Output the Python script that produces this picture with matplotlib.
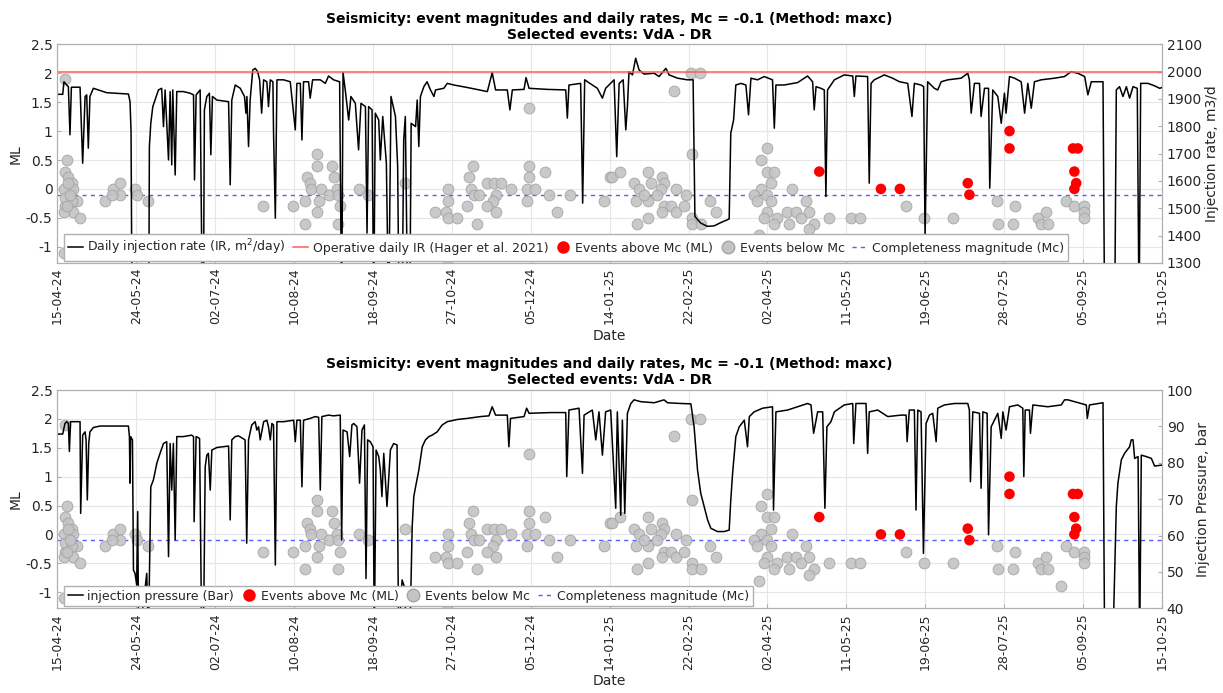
import datetime as dt
import numpy as np
import matplotlib
matplotlib.use("Agg")
import matplotlib.pyplot as plt
from matplotlib.lines import Line2D

# time axis: days since 15-04-2024, ends on 15-10-2025
start = dt.date(2024, 4, 15)
end_day = 548
mc = -0.1
operative_ir = 2000

# daily injection rate [m3/d]
rate_day = [0.4, 2.6, 3.2, 4.6, 5.4, 6.2, 6.9, 11.2, 12.5, 13.7, 14.5, 15.3, 16.1, 17.8, 24.4, 35.2, 36.0, 36.5, 37.0,
            45.3, 45.6, 46.3, 47.3, 48.4, 50.1, 51.7, 52.6, 53.4, 55.1, 55.9, 56.7, 57.2, 58.4, 59.2, 62.5, 65.8, 67.5,
            68.0, 68.8, 70.8, 71.9, 72.4, 72.9, 74.1, 75.4, 76.1, 76.9, 79.1, 84.9, 85.7, 86.5, 88.2, 90.7, 92.8, 93.5,
            94.0, 94.8, 95.6, 96.9, 98.1, 99.3, 100.3, 101.3, 102.3, 103.9, 104.7, 105.6, 106.9, 107.2, 108.1, 108.9,
            112.2, 115.5, 118.0, 118.8, 120.5, 121.3, 122.1, 124.6, 125.4, 126.6, 130.4, 132.9, 134.5, 137.0, 140.0,
            141.0, 141.7, 142.8, 144.5, 145.6, 147.8, 149.4, 150.6, 152.8, 153.6, 154.4, 156.1, 156.9, 157.7, 159.4,
            160.2, 161.4, 163.2, 164.3, 165.5, 167.7, 168.8, 169.5, 171.0, 171.8, 172.6, 173.8, 174.8, 175.5, 177.7,
            178.5, 179.3, 180.1, 181.8, 183.4, 185.1, 186.8, 187.6, 191.7, 193.4, 196.7, 203.3, 213.3, 215.7, 217.4,
            223.2, 224.5, 225.7, 231.5, 232.5, 234.0, 243.1, 252.2, 253.0, 253.8, 259.6, 260.6, 261.6, 265.4, 267.9,
            270.4, 272.0, 276.2, 277.5, 278.7, 280.7, 282.0, 282.8, 283.6, 285.3, 286.9, 288.6, 291.1, 296.1, 298.5,
            301.9, 303.5, 307.7, 312.6, 315.4, 316.3, 319.2, 322.5, 325.9, 329.2, 333.3, 334.1, 335.5, 336.6, 339.1,
            341.6, 342.9, 344.1, 347.4, 350.7, 354.8, 355.7, 356.5, 360.6, 367.3, 372.2, 374.7, 375.5, 376.4, 378.8,
            380.5, 381.3, 382.1, 385.5, 390.4, 394.6, 395.4, 396.2, 402.0, 402.8, 403.7, 405.3, 410.3, 414.4, 417.8,
            421.9, 424.0, 425.2, 428.5, 429.8, 430.5, 431.8, 435.1, 436.8, 438.5, 441.8, 448.4, 451.7, 452.5, 453.4,
            455.0, 457.5, 458.3, 460.0, 462.0, 462.6, 464.1, 466.6, 468.3, 469.9, 470.7, 472.4, 474.9, 478.2, 479.9,
            481.5, 483.2, 484.8, 488.1, 494.8, 499.7, 503.0, 506.3, 509.7, 511.3, 513.0, 518.8, 519.6, 524.6, 525.4,
            527.0, 528.7, 530.4, 532.0, 533.7, 535.8, 536.7, 537.5, 541.1, 544.4, 546.9, 548.6]
rate_val = [1917, 1917, 1963, 1951, 1945, 1769, 1943, 1943, 1665, 1909, 1915, 1720, 1909, 1939, 1923, 1918, 1890, 1781, 1100,
            1100, 1726, 1811, 1872, 1896, 1933, 1939, 1799, 1933, 1677, 1927, 1659, 1933, 1622, 1927, 1927, 1921, 1915,
            1604, 1915, 1933, 1100, 1100, 1860, 1909, 1921, 1696, 1909, 1896, 1890, 1586, 1896, 1951, 1939, 1909, 1848,
            1909, 1726, 1896, 2006, 2012, 2000, 1970, 1848, 1970, 1963, 1872, 1970, 1963, 1781, 1464, 1970,
            1970, 1963, 1787, 1957, 1957, 1750, 1963, 1963, 1903, 1970, 1970, 1957, 1984, 1970, 1963,
            1100, 1996, 1933, 1823, 1909, 1884, 1714, 1884, 1872, 1409, 1872, 1860, 1100, 1848, 1823,
            1677, 1836, 1665, 1100, 1909, 1836, 1653, 1100, 1100, 1750, 1836, 1100, 1100, 1811, 1799,
            1896, 1726, 1909, 1945, 1963, 1933, 1909, 1933, 1939, 1957, 1951, 1942, 1927, 1996, 1933,
            1933, 1860, 1933, 1935, 1978, 1939, 1935, 1933, 1830, 1951, 1957, 1519, 1970, 1951, 1939,
            1903, 1939, 1970, 1689, 1957, 1970, 1787, 1872, 2000, 1988, 2049, 2006, 1991, 1994, 1982,
            2012, 1988, 1976, 1970, 1970, 1470, 1446, 1434, 1436, 1448, 1461, 1775, 1823, 1951, 1957,
            1951, 1842, 1976, 1970, 1982, 1970, 1793, 1951, 1951, 1960, 1984, 1963, 1860, 1945, 1939,
            1933, 1543, 1933, 1970, 1988, 1984, 1909, 1984, 1982, 1592, 1957, 1970, 1988, 1976, 1963,
            1957, 1836, 1957, 1951, 1945, 1397, 1963, 1939, 1933, 1963, 1970, 1976, 1994, 1970, 1848,
            1957, 1957, 1836, 1939, 1939, 1574, 1933, 1909, 1811, 1921, 1848, 1982, 1976, 1963, 1848,
            1957, 1866, 1963, 1970, 1976, 1982, 2000, 1994, 1982, 1915, 1963, 1963, 1100, 1100, 1933,
            1945, 1909, 1945, 1903, 1945, 1939, 1100, 1957, 1957, 1948, 1939, 1943]

# injection pressure [bar]
pres_day = [0.4, 2.6, 3.7, 4.6, 5.4, 5.9, 6.5, 11.2, 11.5, 12.5, 13.7, 14.2, 14.8, 15.5, 16.1, 17.8, 21.1, 35.2, 35.7,
            36.0, 36.3, 37.2, 37.7, 38.5, 39.3, 39.8, 40.3, 44.3, 45.1, 46.3, 47.6, 49.3, 50.9, 52.6, 54.2, 55.1, 55.9,
            56.7, 57.5, 58.4, 59.2, 62.5, 66.6, 67.5, 67.8, 68.8, 70.5, 71.6, 72.4, 73.3, 74.1, 74.9, 75.8, 76.6, 79.1,
            84.9, 85.7, 86.5, 88.2, 89.8, 93.1, 93.9, 94.8, 96.4, 98.1, 98.9, 99.8, 100.6, 102.3, 103.9, 104.7, 105.6,
            106.4, 107.2, 108.1, 108.9, 112.2, 117.2, 118.0, 118.8, 120.5, 121.3, 122.1, 125.4, 127.9, 129.6, 130.4,
            131.2, 134.5, 137.0, 140.3, 141.0, 141.7, 143.7, 145.0, 146.1, 147.0, 148.6, 149.9, 151.1, 152.3, 153.1,
            153.9, 155.2, 156.6, 157.2, 158.1, 159.4, 160.2, 161.0, 161.9, 163.5, 164.3, 165.2, 166.8, 168.5, 169.3,
            171.0, 172.1, 173.5, 174.8, 176.0, 176.8, 177.7, 179.3, 181.0, 182.6, 184.3, 185.9, 188.4, 190.9, 193.4,
            198.4, 203.3, 209.9, 214.1, 215.7, 217.4, 223.2, 224.0, 224.8, 231.5, 232.8, 234.0, 244.7, 252.2, 252.7,
            253.8, 258.8, 260.5, 261.3, 265.4, 267.1, 268.7, 270.4, 272.0, 274.5, 277.0, 277.8, 279.5, 280.3, 281.5,
            282.8, 284.5, 286.1, 289.4, 296.1, 301.0, 302.7, 309.3, 314.3, 315.9, 317.6, 319.2, 322.6, 324.2, 327.5,
            330.8, 333.3, 334.1, 335.0, 336.6, 338.3, 340.8, 342.4, 343.3, 345.7, 349.9, 354.8, 355.3, 356.5, 362.3,
            367.3, 372.2, 373.9, 375.2, 377.2, 379.7, 380.8, 381.8, 383.8, 385.5, 390.4, 394.6, 395.1, 396.2, 401.2,
            402.0, 402.8, 407.0, 412.0, 418.6, 421.1, 421.6, 422.7, 425.2, 426.0, 426.9, 428.5, 429.7, 431.0, 432.7,
            434.3, 436.0, 436.8, 440.1, 445.1, 451.7, 452.5, 453.0, 454.2, 457.5, 458.3, 459.2, 461.3, 462.0, 463.3,
            466.6, 468.3, 469.1, 470.7, 472.4, 476.5, 479.0, 479.5, 480.2, 482.3, 482.8, 484.0, 491.4, 498.1, 499.7,
            501.4, 508.0, 510.5, 511.0, 512.1, 518.8, 519.6, 523.7, 525.4, 526.2, 527.9, 529.5, 532.0, 532.8, 533.7,
            534.5, 536.2, 537.0, 537.8, 540.3, 542.8, 544.4, 548.6]
pres_val = [87.9, 87.9, 90.8, 91.3, 90.8, 83.1, 91.3, 91.3, 66.1, 87.6, 88.5, 86.2, 69.8, 85.3, 88.5, 89.7, 90.1, 90.1, 87.2,
            74.4, 87.2, 86.3, 50.5, 49.6, 46.4, 66.6, 30, 49.6, 30, 73.4, 75.3, 79.9, 82.6, 85.3, 85.8, 54.2, 85.3,
            72.5, 85.3, 58.8, 87.2, 87.2, 87.6, 87.2, 63.8, 87.2, 86.7, 30, 30, 78.9, 82.1, 82.6, 72.5, 83.5, 84.2,
            84.6, 64.3, 86.3, 87.2, 87.4, 86.3, 57.9, 86.3, 90.4, 91.3, 89.0, 89.9, 86.3, 91.3, 91.7, 89.9, 86.3,
            90.8, 90.4, 51.9, 91.3, 91.3, 91.7, 85.8, 91.7, 91.7, 73.4, 91.7, 92.2, 92.7, 92.5, 72.5,
            92.7, 93.1, 92.9, 93.1, 58.8, 89.0, 88.5, 81.7, 90.4, 90.8, 89.9, 74.4, 89.0, 90.4, 48.2,
            86.3, 85.8, 84.4, 30, 83.5, 81.7, 78.0, 70.7, 82.6, 68.0, 75.3, 83.5, 85.3, 84.9, 30,
            47.8, 46.0, 30, 30, 62.4, 70.7, 73.4, 78.0, 84.4, 86.3, 87.2, 87.6, 88.5, 90.4, 91.3,
            91.9, 92.2, 92.7, 92.9, 95.4, 93.1, 93.1, 84.4, 92.2, 92.7, 95.0, 93.6, 93.8, 93.8, 76.2,
            94.5, 95.0, 77.1, 93.1, 94.5, 86.3, 94.0, 82.1, 94.0, 94.5, 67.5, 94.0, 65.6, 91.7, 66.1,
            93.6, 96.3, 97.3, 96.8, 96.5, 97.3, 96.5, 96.3, 96.2, 89.9, 78.0, 71.6, 64.3, 62.0, 61.1,
            61.1, 61.5, 69.8, 77.1, 87.2, 89.9, 91.7, 84.4, 92.7, 94.0, 95.0, 95.4, 67.0, 94.0, 94.5,
            95.4, 96.3, 95.9, 88.1, 94.0, 94.0, 67.5, 89.9, 91.3, 94.0, 95.9, 96.3, 85.3, 96.3, 96.3,
            82.6, 94.0, 94.5, 92.7, 93.1, 93.1, 85.8, 94.5, 94.5, 67.0, 94.5, 94.0, 55.1, 90.8, 93.1,
            93.6, 85.8, 95.0, 95.9, 96.3, 96.3, 94.5, 74.8, 94.0, 93.6, 73.0, 94.0, 93.6, 60.2, 89.9,
            93.6, 86.7, 94.0, 89.0, 95.4, 95.9, 95.0, 76.2, 94.5, 94.5, 88.1, 95.9, 95.4, 95.9, 97.3,
            97.3, 96.3, 95.9, 92.2, 95.9, 96.5, 30, 30, 67.9, 74.4, 80.8, 82.6, 84.4, 86.3, 86.3,
            81.2, 81.7, 30, 82.1, 81.7, 81.2, 79.1, 79.4]

# events (day, ML)
below_day = [3.7, 4.6, 3.7, 5.4, 7.0, 6.2, 7.9, 3.0, 9.5, 3.7, 7.9, 11.2, 3.0, 3.7, 7.0, 3.0, 5.4, 6.2, 4.6,
             23.6, 27.7, 31.0, 31.0, 27.0, 38.5, 39.4, 45.0,
             102, 116.8, 123, 124, 129, 129, 125.5, 126, 131, 129.6, 128.8, 123, 134.6, 136, 137,
             138.7, 139, 140, 139, 149.5, 154, 172.6, 187.2, 194, 194, 193, 194, 198, 208, 203, 204, 206, 205,
             206.6, 209, 213, 216.5, 220, 217.4, 216, 213, 217.4, 224.8, 234, 234, 234, 233, 233, 237, 241.8,
             244, 248, 254.3, 271, 274, 193.5, 306, 314.5, 319,
             275.3, 279, 286, 287, 292.8, 292.8, 294.4, 288.6, 291, 300, 301, 299.3, 297.7, 301, 300, 306.8,
             304.3, 306.8, 311.7, 311, 292.8, 287.4, 315, 315, 315, 319.3, 324, 326.8, 352.3, 349, 352.3, 355.6,
             354, 349, 352.3, 345.7, 347.3, 354, 352.3, 350.7, 357, 355.6, 362.2, 364.7, 366.3, 363, 368.8,
             371.3, 373, 375.5, 373, 382.6, 394, 398, 348.3,
             421, 429.8, 444.2, 466.3, 475.3, 466.6, 474, 486.5, 490.7, 488, 491.4, 498, 500.5, 504.6, 509.3,
             509.6, 509.6]
below_ml = [1.9, 0.5, 0.3, 0.2, 0.1, 0.0, 0.0, 0.0, -0.2, -0.3, -0.4, -0.5, -0.4, -0.15, -0.2, -1.1, 0.1, -0.1, -0.3,
            -0.2, 0.0, 0.1, -0.1, -0.1, 0.0, -0.1, -0.2,
            -0.3, -0.3, -0.6, 0.2, 0.6, 0.4, 0.1, 0.0, 0.0, -0.2, -0.4, -0.2, -0.1, 0.4, 0.2,
            0.0, -0.1, -0.3, -0.6, 0.0, -0.1, 0.1, -0.4, 0.0, -0.2, -0.4, -0.5, -0.5, -0.6, -0.3, 0.2, 0.4, 0.0,
            -0.1, -0.1, 0.1, 0.1, 0.1, -0.1, -0.2, -0.3, -0.4, 0.0, 1.4, 0.4, 0.2, 0.0, -0.2, 0.0, 0.3,
            -0.1, -0.4, -0.1, -0.2, 0.2, -1.2, 1.7, 2.0, 2.0,
            0.2, 0.3, 0.1, -0.2, 0.3, -0.2, 0.1, 0.0, -0.1, 0.2, 0.1, 0.0, -0.1, -0.3, -0.4, 0.0,
            -0.3, -0.4, -0.1, -0.3, -0.5, -0.6, 0.6, -0.5, -0.6, -0.6, -0.2, -0.4, 0.7, 0.5, 0.3, 0.3,
            0.1, 0.0, -0.1, -0.1, -0.2, -0.2, -0.4, -0.5, -0.5, -0.6, -0.4, 0.0, -0.4, -0.6, -0.5,
            -0.2, -0.4, -0.6, -0.7, -0.5, -0.5, -0.5, -0.8,
            -0.3, -0.5, -0.5, -0.2, -0.3, -0.6, -0.6, -0.5, -0.4, -0.6, -0.6, -0.9, -0.2, -0.3, -0.3,
            -0.4, -0.5]
above_day = [378, 408.6, 418, 451.7, 452.5, 472.4, 472.4, 503.9, 506.3, 504.6, 505.5, 504.6]
above_ml = [0.3, 0.0, 0.0, 0.1, -0.1, 1.0, 0.7, 0.7, 0.7, 0.3, 0.1, 0.0]

title = ("Seismicity: event magnitudes and daily rates, Mc = -0.1 (Method: maxc)\n"
         "Selected events: VdA - DR")
tick_col = "#262626"
box_col = "#b0b0b0"


def draw_panel(rect, day, val, line_label, right_label, rlim, rticks, with_ir):
    ax = fig.add_axes(rect)
    ax2 = ax.twinx()
    ax.set_xlim(0, end_day)
    ax.set_ylim(-1.28, 2.5)
    ax.set_yticks([-1, -0.5, 0, 0.5, 1, 1.5, 2, 2.5])
    ax.set_yticklabels(["-1", "-0.5", "0", "0.5", "1", "1.5", "2", "2.5"])
    ticks = np.linspace(0, end_day, 15)
    ax.set_xticks(ticks)
    ax.set_xticklabels([(start + dt.timedelta(days=int(np.floor(t + 1e-6)))).strftime("%d-%m-%y")
                        for t in ticks], rotation=90)
    ax.grid(True, color="#e6e6e6", lw=0.8)
    ax.set_axisbelow(True)

    ax.axhline(mc, color="#5a5aff", ls=(0, (3, 3)), lw=1)
    ax.scatter(below_day, below_ml, s=60, c="#c4c4c4", edgecolors="#a5a5a5", linewidths=0.7,
               alpha=0.9, zorder=3)
    ax.scatter(above_day, above_ml, s=58, c="#ff0000", edgecolors="none", zorder=4)

    ax2.plot(day, val, color="k", lw=1.1)
    if with_ir:
        ax2.axhline(operative_ir, color="#ff5a5a", lw=1.1)
    ax2.set_ylim(*rlim)
    ax2.set_yticks(rticks)
    ax2.set_xlim(0, end_day)

    for a in (ax, ax2):
        for sp in a.spines.values():
            sp.set_color(box_col)
        a.tick_params(direction="in", length=3, colors=tick_col, labelsize=10, color=box_col)
    ax.tick_params(axis="x", labelsize=9)
    ax.set_ylabel("ML", fontsize=10, color=tick_col, labelpad=2)
    ax2.set_ylabel(right_label, fontsize=10, color=tick_col, labelpad=2)
    ax.set_xlabel("Date", fontsize=10, color=tick_col, labelpad=3)
    ax.set_title(title, fontsize=10, fontweight="bold", pad=4)

    handles = [Line2D([], [], color="k", lw=1.1, label=line_label)]
    if with_ir:
        handles.append(Line2D([], [], color="#ff5a5a", lw=1.1, label="Operative daily IR (Hager et al. 2021)"))
    handles += [
        Line2D([], [], ls="none", marker="o", ms=9, mfc="#ff0000", mec="none", label="Events above Mc (ML)"),
        Line2D([], [], ls="none", marker="o", ms=9, mfc="#c4c4c4", mec="#a5a5a5", label="Events below Mc"),
        Line2D([], [], color="#5a5aff", ls=(0, (3, 3)), lw=1, label="Completeness magnitude (Mc)"),
    ]
    leg = ax2.legend(handles=handles, loc="lower left", bbox_to_anchor=(0.004, 0.0), ncol=len(handles),
                     fontsize=9, frameon=True, fancybox=False, framealpha=1, edgecolor=box_col,
                     handlelength=1.2, handletextpad=0.35, columnspacing=0.6, borderpad=0.3,
                     borderaxespad=0.15)
    for t in leg.get_texts():
        t.set_color(tick_col)
    return ax, ax2


fig = plt.figure(figsize=(12.23, 6.93), dpi=100)
draw_panel([0.047, 0.6205, 0.903, 0.3156], rate_day, rate_val,
           "Daily injection rate (IR, m$^2$/day)", "Injection rate, m3/d",
           (1300, 2100), range(1300, 2101, 100), True)
draw_panel([0.047, 0.1222, 0.903, 0.315], pres_day, pres_val,
           "injection pressure (Bar)", "Injection Pressure, bar",
           (40, 100), range(40, 101, 10), False)

fig.savefig("out.png", dpi=100)
